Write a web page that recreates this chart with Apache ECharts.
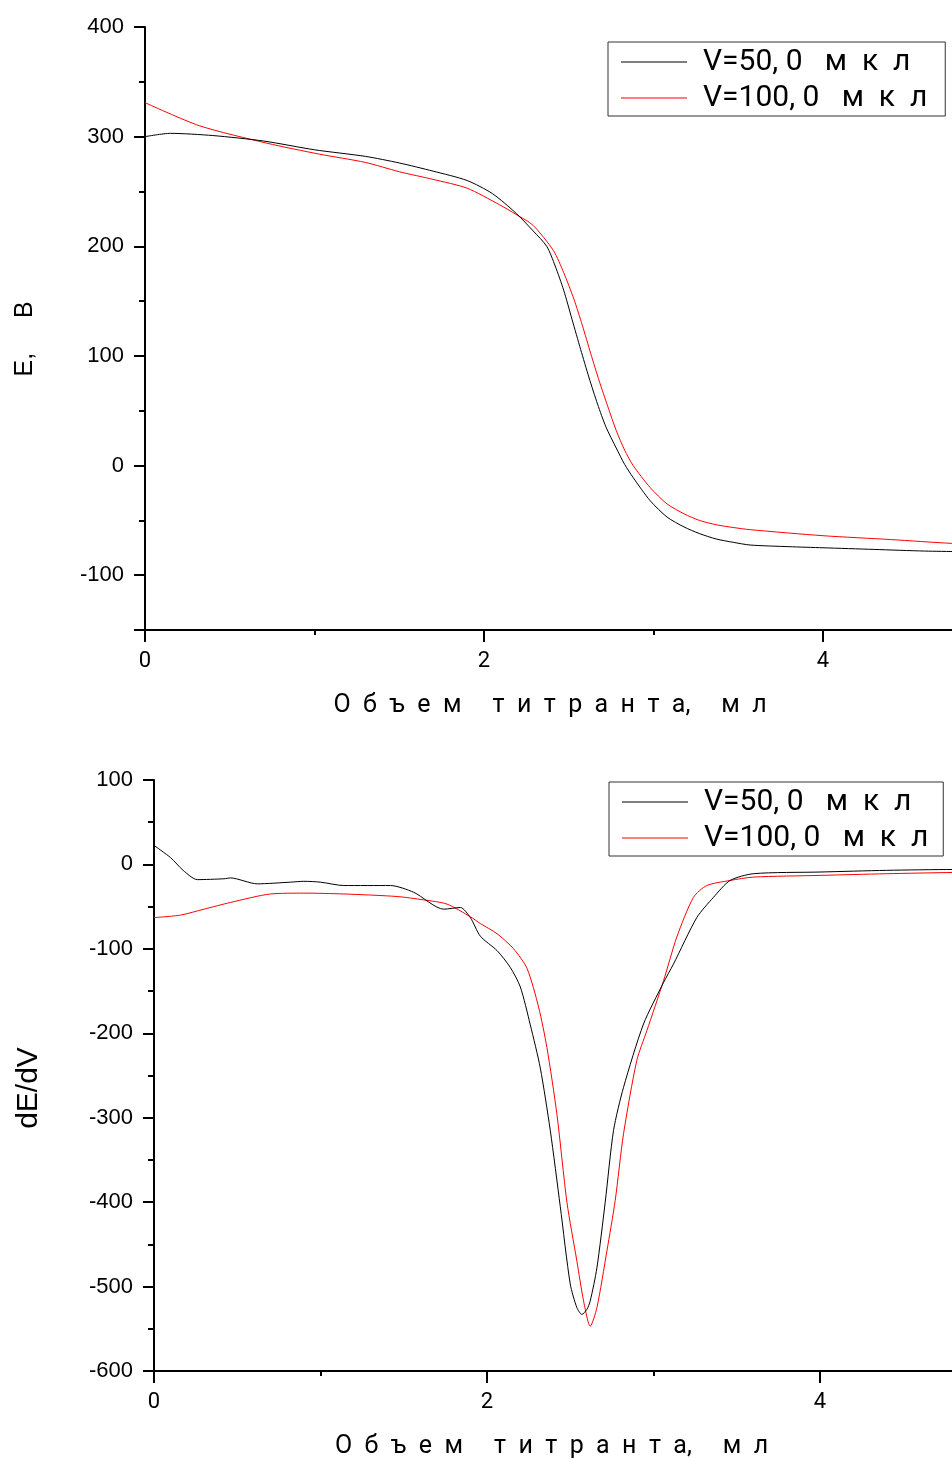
<!DOCTYPE html>
<html>
<head>
<meta charset="utf-8">
<script src="https://cdn.jsdelivr.net/npm/echarts@6/dist/echarts.min.js"></script>
<style>html,body{margin:0;padding:0;background:#fff}#c{width:952px;height:1459px}</style>
</head>
<body>
<div id="c"></div>
<script>
// ---- data ----
const seriesNames = ['V=50, 0   м  к  л', 'V=100, 0   м  к  л'];
const xTitle = 'О  б  ъ  е  м     т  и  т  р  а  н  т  а,     м  л      ';
const topYTitle = 'Е,     В   ';
const botYTitle = 'dE/dV   ';

// top chart: E vs titrant volume
const topX50 = [0, 0.15, 0.4, 0.7, 1.0, 1.3, 1.5, 1.7, 1.9, 2.05, 2.19, 2.29, 2.37, 2.42, 2.47, 2.52, 2.57, 2.62, 2.67, 2.72, 2.78, 2.83, 2.88, 2.98, 3.08, 3.18, 3.27, 3.37, 3.47, 3.57, 3.8, 4.0, 4.3, 4.6, 4.8, 5.0];
const topY50 = [300, 303, 301, 296, 288, 282, 276, 268.5, 260, 248, 230, 214, 200, 182, 160, 133, 106, 80, 56, 35, 16, 1, -11, -32, -47, -56, -62, -67, -70, -72.5, -74, -75, -76.5, -78, -78.5, -79];
const topX100 = [0, 0.32, 0.72, 1.03, 1.3, 1.5, 1.7, 1.9, 2.09, 2.19, 2.29, 2.41, 2.47, 2.53, 2.58, 2.63, 2.68, 2.73, 2.78, 2.83, 2.88, 2.98, 3.08, 3.18, 3.27, 3.37, 3.47, 3.57, 4.0, 4.4, 4.76, 5.0];
const topY100 = [331, 310, 294, 284, 276.5, 268, 261, 253, 238, 229, 219, 196, 176, 152, 128, 102, 77, 54, 32, 14, 0, -20, -35, -44, -50, -54, -56.5, -58.5, -64, -67.5, -71, -72];

// bottom chart: dE/dV vs titrant volume
const botX50 = [0, 0.1, 0.175, 0.26, 0.42, 0.46, 0.62, 0.82, 0.9, 1.0, 1.14, 1.42, 1.56, 1.74, 1.84, 1.9, 1.96, 2.06, 2.14, 2.2, 2.26, 2.32, 2.38, 2.44, 2.5, 2.54, 2.57, 2.6, 2.62, 2.66, 2.71, 2.76, 2.82, 2.94, 3.06, 3.12, 3.26, 3.36, 3.46, 3.6, 4.0, 4.4, 4.8, 5.0];
const botY50 = [22.5, 8, -7, -18, -17, -16, -23, -21, -20, -21, -25, -25, -33, -53, -51, -63, -85, -102, -122, -145, -190, -241, -315, -405, -497, -525, -533, -527, -517, -478, -400, -315, -264, -189, -140, -118, -63, -39, -19, -11, -9, -7, -6, -6];
const botX100 = [0, 0.16, 0.3, 0.46, 0.7, 0.9, 1.14, 1.46, 1.62, 1.76, 1.9, 1.96, 2.06, 2.16, 2.24, 2.31, 2.36, 2.42, 2.48, 2.54, 2.58, 2.62, 2.66, 2.72, 2.77, 2.82, 2.9, 2.96, 3.06, 3.14, 3.24, 3.32, 3.46, 3.6, 4.0, 4.4, 4.8, 5.0];
const botY100 = [-63, -60, -53, -45, -35, -34, -35, -38, -42, -47, -62, -70, -82, -100, -123, -169, -217, -296, -400, -470, -517, -547, -525, -458, -398, -319, -232, -197, -138, -86, -39, -25, -19, -15, -13, -11, -9.5, -9];

// tick settings
const xMin = 0, xMax = 5, xStep = 2;
const topYMin = -150, topYMax = 400;
const botYMin = -600, botYMax = 100, botYStep = 100;

// ---- build ----
function zip(xs, ys) { return xs.map((x, i) => [x, ys[i]]); }
const labelFont = '"Liberation Sans", Arial, sans-serif';
const narrowFont = 'Roboto, sans-serif';

function xAxisCfg(gridIndex) {
  return {
    type: 'value', gridIndex, min: xMin, max: xMax, interval: xStep,
    name: xTitle, nameLocation: 'middle', nameGap: 63,
    nameTextStyle: { fontFamily: narrowFont, fontSize: 25, color: '#000' },
    axisLine: { onZero: false, lineStyle: { color: '#000', width: 2 } },
    axisTick: { length: 12, lineStyle: { color: '#000', width: 2 } },
    minorTick: { show: true, splitNumber: 2, length: 5, lineStyle: { color: '#000', width: 2 } },
    splitLine: { show: false }, minorSplitLine: { show: false },
    axisLabel: { margin: 20, fontFamily: narrowFont, fontSize: 22, color: '#000' }
  };
}
function yAxisCfg(gridIndex, min, max, interval, name, nameGap, nameSize) {
  const c = {
    type: 'value', gridIndex, min, max,
    name, nameLocation: 'middle', nameGap,
    nameTextStyle: { fontFamily: labelFont, fontSize: nameSize, color: '#000' },
    axisLine: { onZero: false, lineStyle: { color: '#000', width: 2 } },
    axisTick: { length: 11, lineStyle: { color: '#000', width: 2 } },
    minorTick: { show: true, splitNumber: 2, length: 6, lineStyle: { color: '#000', width: 2 } },
    splitLine: { show: false }, minorSplitLine: { show: false },
    axisLabel: { margin: 21, fontFamily: labelFont, fontSize: 22, color: '#000', showMinLabel: min % 100 === 0 }
  };
  if (interval) c.interval = interval; else c.splitNumber = 5;
  return c;
}
function lineSeries(name, data, color, xi, yi) {
  return {
    type: 'line', name, data, xAxisIndex: xi, yAxisIndex: yi,
    showSymbol: false, symbol: 'none', smooth: 0.25,
    lineStyle: { color, width: 1 }, itemStyle: { color }, z: color === '#ff0000' ? 3 : 4
  };
}
function legendCfg(top, left, padRight) {
  return {
    orient: 'vertical', left, top, icon: 'rect', itemWidth: 66, itemHeight: 1, itemGap: 6,
    padding: [5, padRight, 3, 13], borderColor: '#333', borderWidth: 1,
    data: seriesNames,
    textStyle: { fontFamily: narrowFont, fontSize: 30, lineHeight: 30, color: '#000', padding: [0, 0, 0, 11] }
  };
}

const chart = echarts.init(document.getElementById('c'), null, { renderer: 'canvas' });
chart.setOption({
  backgroundColor: '#fff',
  animation: false,
  grid: [
    { left: 145, top: 27, width: 847.5, bottom: 829, containLabel: false, outerBoundsMode: 'none' },
    { left: 154, top: 780, width: 832.5, bottom: 88, containLabel: false, outerBoundsMode: 'none' }
  ],
  xAxis: [xAxisCfg(0), xAxisCfg(1)],
  yAxis: [
    yAxisCfg(0, topYMin, topYMax, null, topYTitle, 107, 25),
    yAxisCfg(1, botYMin, botYMax, botYStep, botYTitle, 110, 30)
  ],
  legend: [legendCfg(42, 608, 18), legendCfg(782, 609, 15)],
  series: [
    lineSeries(seriesNames[0], zip(topX50, topY50), '#000000', 0, 0),
    lineSeries(seriesNames[1], zip(topX100, topY100), '#ff0000', 0, 0),
    lineSeries(seriesNames[0], zip(botX50, botY50), '#000000', 1, 1),
    lineSeries(seriesNames[1], zip(botX100, botY100), '#ff0000', 1, 1)
  ]
});
</script>
</body>
</html>
